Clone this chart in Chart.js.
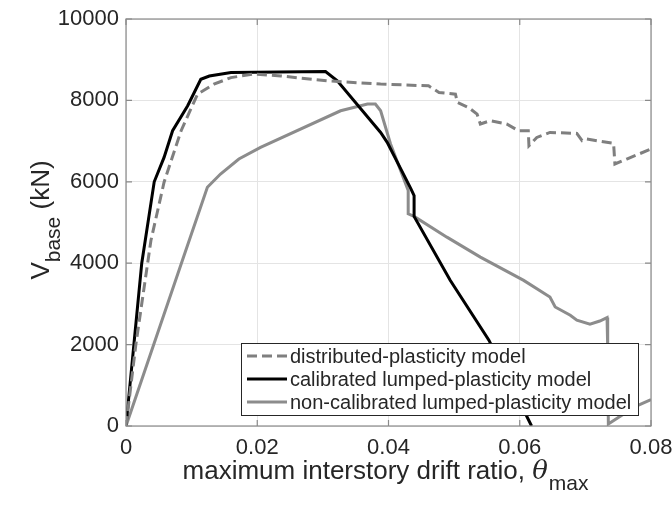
<!DOCTYPE html>
<html>
<head>
<meta charset="utf-8">
<script src="https://cdn.jsdelivr.net/npm/chart.js@4"></script>
<style>
  html, body { margin: 0; padding: 0; background: #fff; }
  #wrap { width: 672px; height: 509px; position: relative; }
</style>
</head>
<body>
<div id="wrap"><canvas id="myChart" width="672" height="509"></canvas></div>
<script>
// axis ticks
const xTicks = [0, 0.02, 0.04, 0.06, 0.08];
const yTicks = [0, 2000, 4000, 6000, 8000, 10000];

// distributed-plasticity model (dashed grey)
const distX = [0, 0.0015, 0.0038, 0.0058, 0.0084, 0.0109, 0.0134, 0.016, 0.0195, 0.0236, 0.0307, 0.0388,
  0.0461, 0.0477, 0.0502, 0.0505, 0.0522, 0.0535, 0.054, 0.0555, 0.058, 0.0598, 0.0613, 0.0614,
  0.0626, 0.0646, 0.0687, 0.0695, 0.0702, 0.0743, 0.0745, 0.0763, 0.08];
const distY = [0, 2000, 4560, 5990, 7255, 8155, 8400, 8560, 8650, 8600, 8480, 8400,
  8358, 8194, 8153, 7950, 7826, 7664, 7420, 7500, 7420, 7255, 7255, 6887,
  7090, 7213, 7190, 7010, 7050, 6945, 6438, 6560, 6805];

// calibrated lumped-plasticity model (black)
const calX = [0, 0.0012, 0.0024, 0.0043, 0.0058, 0.0071, 0.0094, 0.0114, 0.0127, 0.016, 0.0304,
  0.0322, 0.0388, 0.0398, 0.0434, 0.0439, 0.0439, 0.0494, 0.0553, 0.0618];
const calY = [0, 2000, 4000, 6000, 6600, 7255, 7870, 8520, 8600, 8685, 8710,
  8480, 7213, 6970, 5833, 5660, 5150, 3580, 2108, 0];

// non-calibrated lumped-plasticity model (grey)
const nonX = [0, 0.0086, 0.0124, 0.0144, 0.0172, 0.0205, 0.0327, 0.0368, 0.038, 0.0388, 0.0403, 0.043,
  0.043, 0.0439, 0.0489, 0.054, 0.0606, 0.0646, 0.0654, 0.0677, 0.0687, 0.0707, 0.0722, 0.0733,
  0.0734, 0.0735, 0.0775, 0.08];
const nonY = [0, 4070, 5865, 6190, 6560, 6845, 7745, 7910, 7910, 7745, 6935, 5785,
  5213, 5150, 4640, 4150, 3578, 3170, 2924, 2720, 2598, 2500, 2580, 2664,
  1944, 50, 470, 650];

const seriesNames = [
  "distributed-plasticity model",
  "calibrated lumped-plasticity model",
  "non-calibrated lumped-plasticity model",
];

const toPoints = (xs, ys) => xs.map((x, i) => ({ x: x, y: ys[i] }));

const textColor = "#262626";
const axisColor = "#8a8a8a";
const FONT = "'Liberation Sans', Arial, Helvetica, sans-serif";

// box + inward ticks on all four sides
const axisBox = {
  id: "axisBox",
  afterDraw(chart) {
    const { ctx, chartArea: a, scales } = chart;
    ctx.save();
    ctx.strokeStyle = axisColor;
    ctx.lineWidth = 1.2;
    ctx.strokeRect(a.left, a.top, a.right - a.left, a.bottom - a.top);
    const len = 6;
    ctx.beginPath();
    xTicks.forEach((v) => {
      const px = scales.x.getPixelForValue(v);
      ctx.moveTo(px, a.bottom); ctx.lineTo(px, a.bottom - len);
      ctx.moveTo(px, a.top); ctx.lineTo(px, a.top + len);
    });
    yTicks.forEach((v) => {
      const py = scales.y.getPixelForValue(v);
      ctx.moveTo(a.left, py); ctx.lineTo(a.left + len, py);
      ctx.moveTo(a.right, py); ctx.lineTo(a.right - len, py);
    });
    ctx.stroke();
    ctx.restore();
  },
};

// legend drawn over the lines, like matlab
const boxLegend = {
  id: "boxLegend",
  afterDatasetsDraw(chart) {
    const ctx = chart.ctx;
    const x0 = 241, y0 = 343, w = 397, h = 72;
    ctx.save();
    ctx.fillStyle = "#fff";
    ctx.fillRect(x0, y0, w, h);
    ctx.strokeStyle = "#262626";
    ctx.lineWidth = 1;
    ctx.strokeRect(x0 + 0.5, y0 + 0.5, w, h);
    ctx.font = "20px " + FONT;
    ctx.textBaseline = "middle";
    chart.data.datasets.forEach((ds, i) => {
      const cy = y0 + 13 + i * 23;
      ctx.strokeStyle = ds.borderColor;
      ctx.lineWidth = ds.borderWidth;
      ctx.setLineDash(ds.borderDash || []);
      ctx.beginPath();
      ctx.moveTo(x0 + 6, cy);
      ctx.lineTo(x0 + 46, cy);
      ctx.stroke();
      ctx.setLineDash([]);
      ctx.fillStyle = textColor;
      ctx.fillText(ds.label, x0 + 49, cy + 1);
    });
    ctx.restore();
  },
};

// axis titles with subscripts
const axisTitles = {
  id: "axisTitles",
  afterDraw(chart) {
    const ctx = chart.ctx;
    ctx.save();
    ctx.fillStyle = textColor;
    ctx.textBaseline = "alphabetic";
    // x title
    const main = "maximum interstory drift ratio, ";
    ctx.font = "26px " + FONT;
    const w1 = ctx.measureText(main).width;
    ctx.font = "italic 26px 'DejaVu Serif', 'Liberation Serif', serif";
    const w2 = ctx.measureText("\u03B8").width;
    ctx.font = "21px " + FONT;
    const w3 = ctx.measureText("max").width;
    let x = 385 - (w1 + w2 + w3) / 2;
    const base = 479;
    ctx.font = "26px " + FONT;
    ctx.fillText(main, x, base);
    x += w1;
    ctx.font = "italic 26px 'DejaVu Serif', 'Liberation Serif', serif";
    ctx.fillText("\u03B8", x, base);
    x += w2;
    ctx.font = "21px " + FONT;
    ctx.fillText("max", x + 1, base + 11);

    // y title, rotated
    ctx.translate(49, 220);
    ctx.rotate(-Math.PI / 2);
    ctx.font = "26px " + FONT;
    const a1 = ctx.measureText("V").width;
    ctx.font = "21px " + FONT;
    const a2 = ctx.measureText("base").width;
    ctx.font = "26px " + FONT;
    const a3 = ctx.measureText(" (kN)").width;
    let t = -(a1 + a2 + a3) / 2;
    ctx.fillText("V", t, 0);
    t += a1;
    ctx.font = "21px " + FONT;
    ctx.fillText("base", t, 11);
    t += a2;
    ctx.font = "26px " + FONT;
    ctx.fillText(" (kN)", t, 0);
    ctx.restore();
  },
};

document.addEventListener("DOMContentLoaded", function () {
  const ctx = document.getElementById("myChart").getContext("2d");

  new Chart(ctx, {
    type: "scatter",
    data: {
      datasets: [
        {
          label: seriesNames[0],
          data: toPoints(distX, distY),
          borderColor: "#7f7f7f",
          borderWidth: 3,
          borderDash: [10, 5],
        },
        {
          label: seriesNames[1],
          data: toPoints(calX, calY),
          borderColor: "#000000",
          borderWidth: 3,
        },
        {
          label: seriesNames[2],
          data: toPoints(nonX, nonY),
          borderColor: "#8c8c8c",
          borderWidth: 3,
        },
      ].map((d) => Object.assign(d, { showLine: true, pointRadius: 0, fill: false, tension: 0 })),
    },
    options: {
      responsive: false,
      animation: false,
      events: [],
      layout: { padding: { left: 0, top: 19, right: 21, bottom: 0 } },
      plugins: {
        legend: { display: false },
        tooltip: { enabled: false },
      },
      scales: {
        x: {
          type: "linear",
          min: 0,
          max: 0.08,
          afterBuildTicks: (s) => { s.ticks = xTicks.map((v) => ({ value: v })); },
          afterFit: (s) => { s.height = 83; s.paddingLeft = 0; s.paddingRight = 0; },
          grid: { color: "#e4e4e4", lineWidth: 1, drawTicks: false },
          border: { display: false },
          ticks: {
            padding: 9,
            color: textColor,
            font: { family: FONT, size: 22 },
            maxRotation: 0,
            callback: (v) => (v === 0 ? "0" : v.toFixed(2)),
          },
        },
        y: {
          type: "linear",
          min: 0,
          max: 10000,
          afterBuildTicks: (s) => { s.ticks = yTicks.map((v) => ({ value: v })); },
          afterFit: (s) => { s.width = 126; s.paddingTop = 0; s.paddingBottom = 0; },
          grid: { color: "#e4e4e4", lineWidth: 1, drawTicks: false },
          border: { display: false },
          ticks: {
            padding: 7,
            color: textColor,
            font: { family: FONT, size: 22 },
            callback: (v) => String(v),
          },
        },
      },
    },
    plugins: [boxLegend, axisBox, axisTitles],
  });
});
</script>
</body>
</html>
